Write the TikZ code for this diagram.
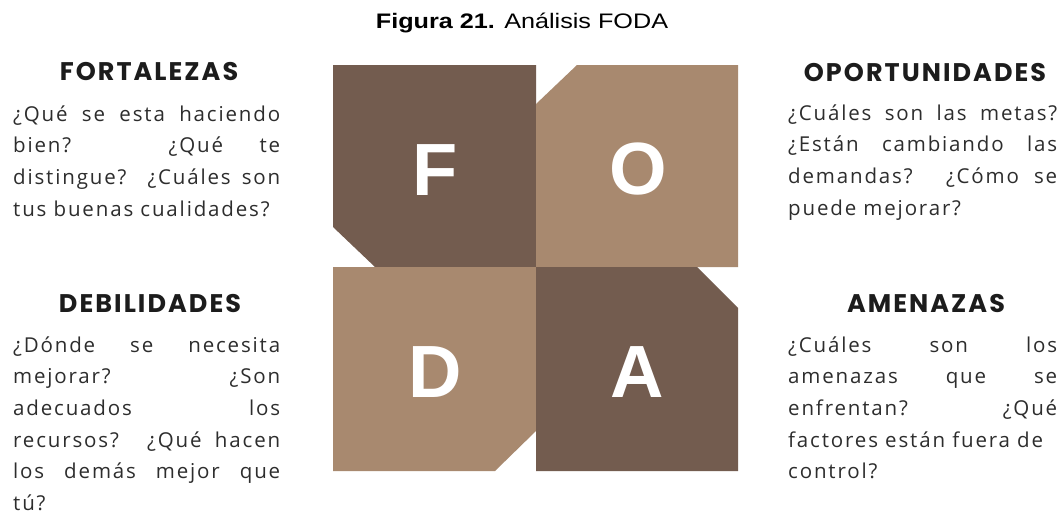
\documentclass[tikz,border=0pt]{standalone}
\usepackage{graphicx}
\usepackage{fontspec}
\setmainfont{Open Sans}
\newfontfamily\bodyfont{Open Sans}[LetterSpace=9]
\newfontfamily\titlefont{Liberation Sans}
\newfontfamily\headfont{Poppins}[LetterSpace=8]
\newfontfamily\letterfont{Liberation Sans}

\definecolor{foDark}{RGB}{115,92,79}
\definecolor{foLight}{RGB}{168,137,111}
\definecolor{bodyInk}{RGB}{45,45,45}
\definecolor{headInk}{RGB}{28,28,28}

% one justified line of a text block, and one left-aligned closing line
\newlength\colw
\newcommand\fullline[1]{\hbox to \colw{#1}}
\newcommand\lastline[1]{\hbox{#1}}
\newcommand\textblock[2]{\vtop{\setlength\colw{#1}\bodyfont\fontsize{20.5}{31.7}\selectfont#2}}

\tikzset{
  quad/.style={draw=none},
  bigletter/.style={inner sep=0pt, text=white, font=\letterfont\bfseries\fontsize{74}{74}\selectfont},
  heading/.style={inner sep=0pt, anchor=base, text=headInk, font=\headfont\bfseries\fontsize{25.5}{25.5}\selectfont},
  bodytext/.style={inner sep=0pt, anchor=base west, text=bodyInk, align=left},
}

\begin{document}
\begin{tikzpicture}[x=1pt,y=-1pt]
  \fill[white] (0,0) rectangle (1063,514);
  \useasboundingbox (0,0) rectangle (1063,514);

  % title
  \node[inner sep=0pt, anchor=base, font=\titlefont\fontsize{21}{21}\selectfont] (title) at (522,28)
    {\scalebox{1.2}[1]{\textbf{Figura 21.} Análisis FODA}};

  % the four chamfered quadrants
  \fill[foDark,  quad] (333,65) -- (536,65) -- (536,267) -- (375,267) -- (333,227) -- cycle;
  \fill[foLight, quad] (577,65) -- (738,65) -- (738,267) -- (536,267) -- (536,104) -- cycle;
  \fill[foLight, quad] (333,267) -- (536,267) -- (536,431) -- (495,471) -- (333,471) -- cycle;
  \fill[foDark,  quad] (536,267) -- (697,267) -- (738,308) -- (738,471) -- (536,471) -- cycle;

  \node[bigletter] (lF) at (435,170) {F};
  \node[bigletter] (lO) at (638,169) {O};
  \node[bigletter] (lD) at (435,372) {D};
  \node[bigletter] (lA) at (637,372) {A};

  % headings
  \node[heading] (hF) at (149,80) {FORTALEZAS};
  \node[heading] (hO) at (925,81) {OPORTUNIDADES};
  \node[heading] (hD) at (150,312) {DEBILIDADES};
  \node[heading] (hA) at (926,312) {AMENAZAS};

  % question blocks
  \node[bodytext] (tF) at (13,121) {\textblock{267pt}{%
    \fullline{¿Qué se esta haciendo}
    \fullline{bien? ¿Qué te}
    \fullline{distingue? ¿Cuáles son}
    \lastline{tus buenas cualidades?}}};

  \node[bodytext] (tD) at (13,352) {\textblock{267pt}{%
    \fullline{¿Dónde se necesita}
    \fullline{mejorar? ¿Son}
    \fullline{adecuados los}
    \fullline{recursos? ¿Qué hacen}
    \fullline{los demás mejor que}
    \lastline{tú?}}};

  \node[bodytext] (tO) at (788,120) {\textblock{269pt}{%
    \fullline{¿Cuáles son las metas?}
    \fullline{¿Están cambiando las}
    \fullline{demandas? ¿Cómo se}
    \lastline{puede mejorar?}}};

  \node[bodytext] (tA) at (788,352) {\textblock{269pt}{%
    \fullline{¿Cuáles son los}
    \fullline{amenazas que se}
    \fullline{enfrentan? ¿Qué}
    \lastline{factores están fuera de}
    \lastline{control?}}};
\end{tikzpicture}
\end{document}
